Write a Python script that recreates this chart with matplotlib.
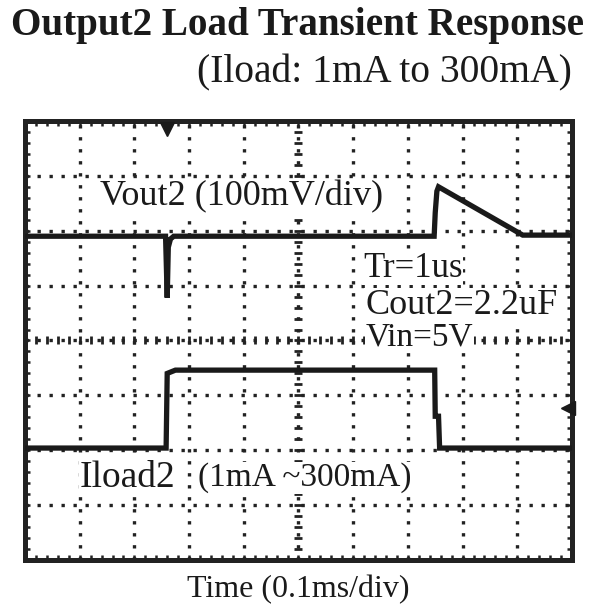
import matplotlib
matplotlib.use("Agg")
import matplotlib.pyplot as plt
import numpy as np

# scope trace data, in divisions (x: 10 div of 0.1ms, y: 8 div)
vout_t = [0, 2.57, 2.60, 2.62, 2.66, 2.72, 7.48, 7.50, 7.53, 7.56, 9.1, 10]
vout_v = [5.9, 5.9, 4.78, 5.7, 5.85, 5.9, 5.9, 6.33, 6.72, 6.8, 5.92, 5.92]

iload_t = [0, 2.58, 2.60, 2.75, 7.49, 7.50, 7.56, 7.58, 10]
iload_v = [2.04, 2.04, 3.40, 3.46, 3.46, 2.62, 2.62, 2.04, 2.04]

trigger_t = 2.6       # trigger marker on top edge
ch_marker_lvl = 2.77  # channel ground marker on right edge

serif = "Liberation Serif"

fig = plt.figure(figsize=(5.92, 6.07), dpi=100)
ax = fig.add_axes([0.0422, 0.0774, 0.9240, 0.7233])
ax.set_xlim(0, 10)
ax.set_ylim(0, 8)

# graticule
dot = dict(color="#222222", linestyle=(0, (1, 2.6)), linewidth=2.4, zorder=1)
for x in range(1, 10):
    ax.axvline(x, **dot)
for y in range(1, 8):
    ax.axhline(y, **dot)
ax.plot(np.arange(0, 10.01, 0.2), np.full(51, 4.0), ls="none", marker="|",
        ms=6, mew=2, color="#222222", zorder=1)
ax.plot(np.full(41, 5.0), np.arange(0, 8.01, 0.2), ls="none", marker="_",
        ms=6, mew=2, color="#222222", zorder=1)

ax.set_xticks(range(11))
ax.set_yticks(range(9))
ax.set_xticks(np.arange(0, 10.01, 0.2), minor=True)
ax.set_yticks(np.arange(0, 8.01, 0.2), minor=True)
ax.tick_params(which="both", direction="in", length=3.5, width=1.8, color="#222222",
               top=True, right=True, labelbottom=False, labelleft=False)
for s in ax.spines.values():
    s.set_linewidth(3.6)
    s.set_color("#222222")

# traces
ax.plot(vout_t, vout_v, color="#1a1a1a", lw=3.8, solid_joinstyle="miter", zorder=3)
ax.plot(iload_t, iload_v, color="#1a1a1a", lw=3.8, solid_joinstyle="miter", zorder=3)

ax.plot([trigger_t], [7.86], marker="v", ms=10, color="#1a1a1a", clip_on=False, zorder=4)
ax.plot([9.93], [ch_marker_lvl], marker="<", ms=10, color="#1a1a1a", clip_on=False, zorder=4)

box = dict(facecolor="white", edgecolor="none", pad=0.5)
ax.text(1.37, 6.62, "Vout2 (100mV/div)", family=serif, fontsize=26, va="center",
        color="#1a1a1a", bbox=box, zorder=2)
ax.text(6.18, 5.32, "Tr=1us", family=serif, fontsize=25, va="center",
        color="#1a1a1a", bbox=box, zorder=2)
ax.text(6.22, 4.64, "Cout2=2.2uF", family=serif, fontsize=26, va="center",
        color="#1a1a1a", bbox=box, zorder=2)
ax.text(6.22, 4.06, "Vin=5V", family=serif, fontsize=24, va="center",
        color="#1a1a1a", bbox=box, zorder=2)
ax.text(1.0, 1.5, "Iload2", family=serif, fontsize=27, va="center",
        color="#1a1a1a", bbox=box, zorder=2)
ax.text(3.16, 1.5, "(1mA ~300mA)", family=serif, fontsize=24, va="center",
        color="#1a1a1a", bbox=box, zorder=2)

fig.text(0.503, 0.958, "Output2 Load Transient Response", family=serif, fontsize=28.2,
         fontweight="bold", ha="center", va="center", color="#1a1a1a")
fig.text(0.966, 0.880, "(Iload: 1mA to 300mA)", family=serif, fontsize=28.5,
         ha="right", va="center", color="#1a1a1a")
fig.text(0.503, 0.029, "Time (0.1ms/div)", family=serif, fontsize=23,
         ha="center", va="center", color="#1a1a1a")

fig.savefig("out.png", dpi=100)
